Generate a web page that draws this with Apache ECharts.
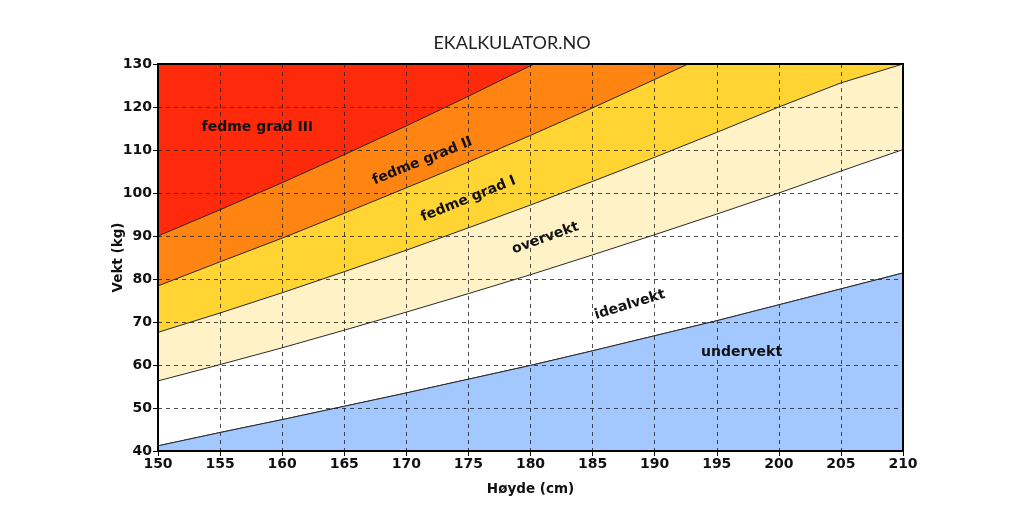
<!DOCTYPE html>
<html><head><meta charset="utf-8">
<script src="https://cdn.jsdelivr.net/npm/echarts@6/dist/echarts.min.js"></script>
<style>html,body{margin:0;padding:0;background:#fff}#c{width:1024px;height:512px}</style>
</head><body><div id="c"></div>
<script>
// Heights (cm)
const heights = [150,155,160,165,170,175,180,185,190,195,200,205,210];
// Boundary weights (kg)
const under = [41.2,44.3,47.3,50.4,53.5,56.7,59.9,63.3,66.8,70.3,74.0,77.7,81.4];
const ideal = [56.3,60.1,64.0,68.1,72.3,76.6,81.0,85.6,90.3,95.1,100.0,105.1,110.1];
const over  = [67.6,72.1,76.8,81.7,86.7,91.9,97.2,102.7,108.3,114.1,120.0,125.6,130.0];
const grad1 = [78.4,84.0,89.5,95.3,101.2,107.2,113.4,119.8,126.4,133.1,140.0,147.1,154.4];
const grad2 = [90.0,96.1,102.4,108.9,115.6,122.5,129.6,136.9,144.4,152.1,160.0,168.1,176.4];
const xTicks = [150,155,160,165,170,175,180,185,190,195,200,205,210];
const yTicks = [40,50,60,70,80,90,100,110,120,130];
const zoneLabels = [
  {name:'fedme grad III', x:158.0, y:115.3, rot:0},
  {name:'fedme grad II', x:171.3, y:107.4, rot:22},
  {name:'fedme grad I', x:175.0, y:98.6, rot:22},
  {name:'overvekt', x:181.2, y:89.5, rot:20},
  {name:'idealvekt', x:188.0, y:74.0, rot:17},
  {name:'undervekt', x:197.0, y:63.0, rot:0}
];

const pts = arr => heights.map((h,i)=>[h,arr[i]]);
const lineStyle = {color:'#2a2a2a', width:1};
function band(arr, color, origin, z){
  return {type:'line', data:pts(arr), symbol:'none', smooth:false, z:z,
    lineStyle: lineStyle, areaStyle:{color:color, opacity:1, origin:origin}, silent:true};
}
const chart = echarts.init(document.getElementById('c'));
const axisFont = {fontFamily:'DejaVu Sans', fontWeight:'bold', fontSize:14, color:'#111'};
const nameFont = {fontFamily:'DejaVu Sans', fontWeight:'bold', fontSize:13.5, color:'#111'};
const split = {show:true, lineStyle:{type:[4,4], color:'#222', width:1, opacity:0.8}};
chart.setOption({
  animation:false,
  title:{text:'EKALKULATOR.NO', left:'center', top:29,
    textStyle:{fontFamily:'Lato', fontWeight:'normal', fontSize:18, color:'#222'}},
  grid:{left:158, right:121, top:64, bottom:61},
  xAxis:[{type:'value', min:150, max:210, interval:5, z:10,
    name:'Høyde (cm)', nameLocation:'middle', nameGap:31, nameTextStyle:nameFont,
    nameMoveOverlap:false,
    axisLine:{lineStyle:{color:'#000', width:2}},
    axisTick:{show:true, length:5, lineStyle:{color:'#000', width:1}},
    axisLabel:Object.assign({margin:6}, axisFont),
    splitLine:split},
   {type:'value', position:'top', min:150, max:210, z:10,
    axisLine:{show:true, onZero:false, lineStyle:{color:'#000', width:2}},
    axisTick:{show:false}, axisLabel:{show:false}, splitLine:{show:false}}],
  yAxis:[{type:'value', min:40, max:130, interval:10, z:10,
    name:'Vekt (kg)', nameLocation:'middle', nameGap:33, nameTextStyle:nameFont,
    nameMoveOverlap:false,
    axisLine:{show:true, lineStyle:{color:'#000', width:2}},
    axisTick:{show:true, length:5, lineStyle:{color:'#000', width:1}},
    axisLabel:Object.assign({margin:6}, axisFont),
    splitLine:split},
   {type:'value', position:'right', min:40, max:130, z:10,
    axisLine:{show:true, onZero:false, lineStyle:{color:'#000', width:2}},
    axisTick:{show:false}, axisLabel:{show:false}, splitLine:{show:false}}],
  series:[
    band(under, '#ffffff', 'end', 2),
    band(ideal, '#fff2c6', 'end', 3),
    band(over, '#ffd433', 'end', 4),
    band(grad1, '#ff8412', 'end', 5),
    band(grad2, '#ff2a0c', 'end', 6),
    band(under, '#a3c7ff', 'start', 7),
    {type:'scatter', z:9, symbolSize:0, silent:true, itemStyle:{opacity:1},
     data: zoneLabels.map(d=>({value:[d.x,d.y], name:d.name,
       label:{show:true, position:'inside', formatter:d.name, rotate:d.rot, opacity:1,
         fontFamily:'DejaVu Sans', fontWeight:'bold', fontSize:14, color:'#111'}}))}
  ]
});
</script></body></html>
